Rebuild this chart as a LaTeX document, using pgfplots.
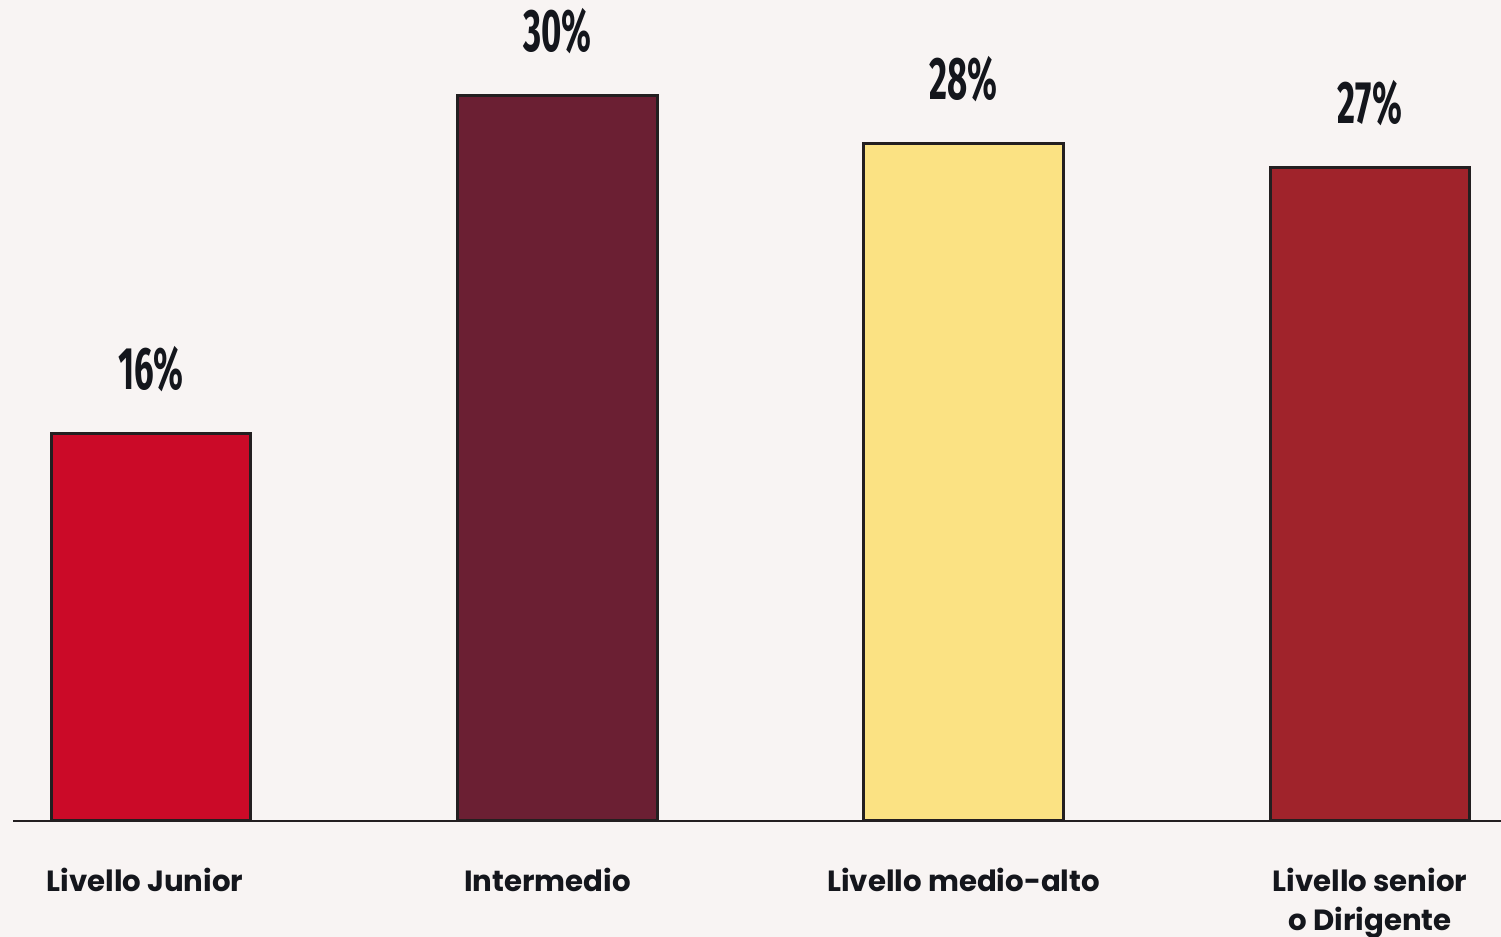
\documentclass[border=0pt]{standalone}
\usepackage{pgfplots}
\pgfplotsset{compat=1.18}
\usepackage{fontspec}
\setmainfont{Poppins}
\newfontfamily\valfont{Fira Sans}
\definecolor{bg}{RGB}{248,244,243}
\definecolor{txt}{RGB}{20,22,28}
\definecolor{edge}{RGB}{35,31,32}
\definecolor{cA}{RGB}{203,10,40}
\definecolor{cB}{RGB}{107,31,51}
\definecolor{cC}{RGB}{251,226,131}
\definecolor{cD}{RGB}{160,35,43}
\begin{document}
\begin{tikzpicture}
\fill[bg] (-6.5pt,-58pt) rectangle (744pt,410.5pt);
\begin{axis}[
  at={(0,0)}, anchor=south west,
  width=744pt, height=410.5pt, scale only axis,
  xmin=-0.3396, xmax=3.3224, ymin=0, ymax=33.93,
  axis y line=none, axis x line=bottom,
  x axis line style={-, draw=edge, line width=1pt},
  xtick={0,1,2,3},
  xticklabels={\hspace*{-6pt}Livello Junior,\hspace*{-10pt}Intermedio\vphantom{g}\raisebox{-2pt}{},Livello medio-alto,{Livello senior\\o Dirigente}},
  major tick length=0pt,
  xticklabel style={font=\bfseries\fontsize{14.6}{19.5}\selectfont, align=center, text=txt, anchor=north, inner sep=0pt, yshift=-23.5pt},
  ybar, bar width=0.492,
  every axis plot/.append style={draw=edge, line width=1.5pt, /pgf/bar shift=0pt},
  nodes near coords={\scalebox{0.58}[1]{\valfont\bfseries\fontsize{30}{30}\selectfont\pgfmathprintnumber[assume math mode=true]{\pgfplotspointmeta}\%}},
  nodes near coords style={anchor=south, inner sep=0pt, yshift=20pt, text=txt},
]
\addplot[fill=cA] coordinates {(0,16)};
\addplot[fill=cB] coordinates {(1,30)};
\addplot[fill=cC] coordinates {(2,28)};
\addplot[fill=cD] coordinates {(3,27)};
\end{axis}
\pgfresetboundingbox
\path (-6.5pt,-58pt) rectangle (744pt,410.5pt);
\end{tikzpicture}
\end{document}
